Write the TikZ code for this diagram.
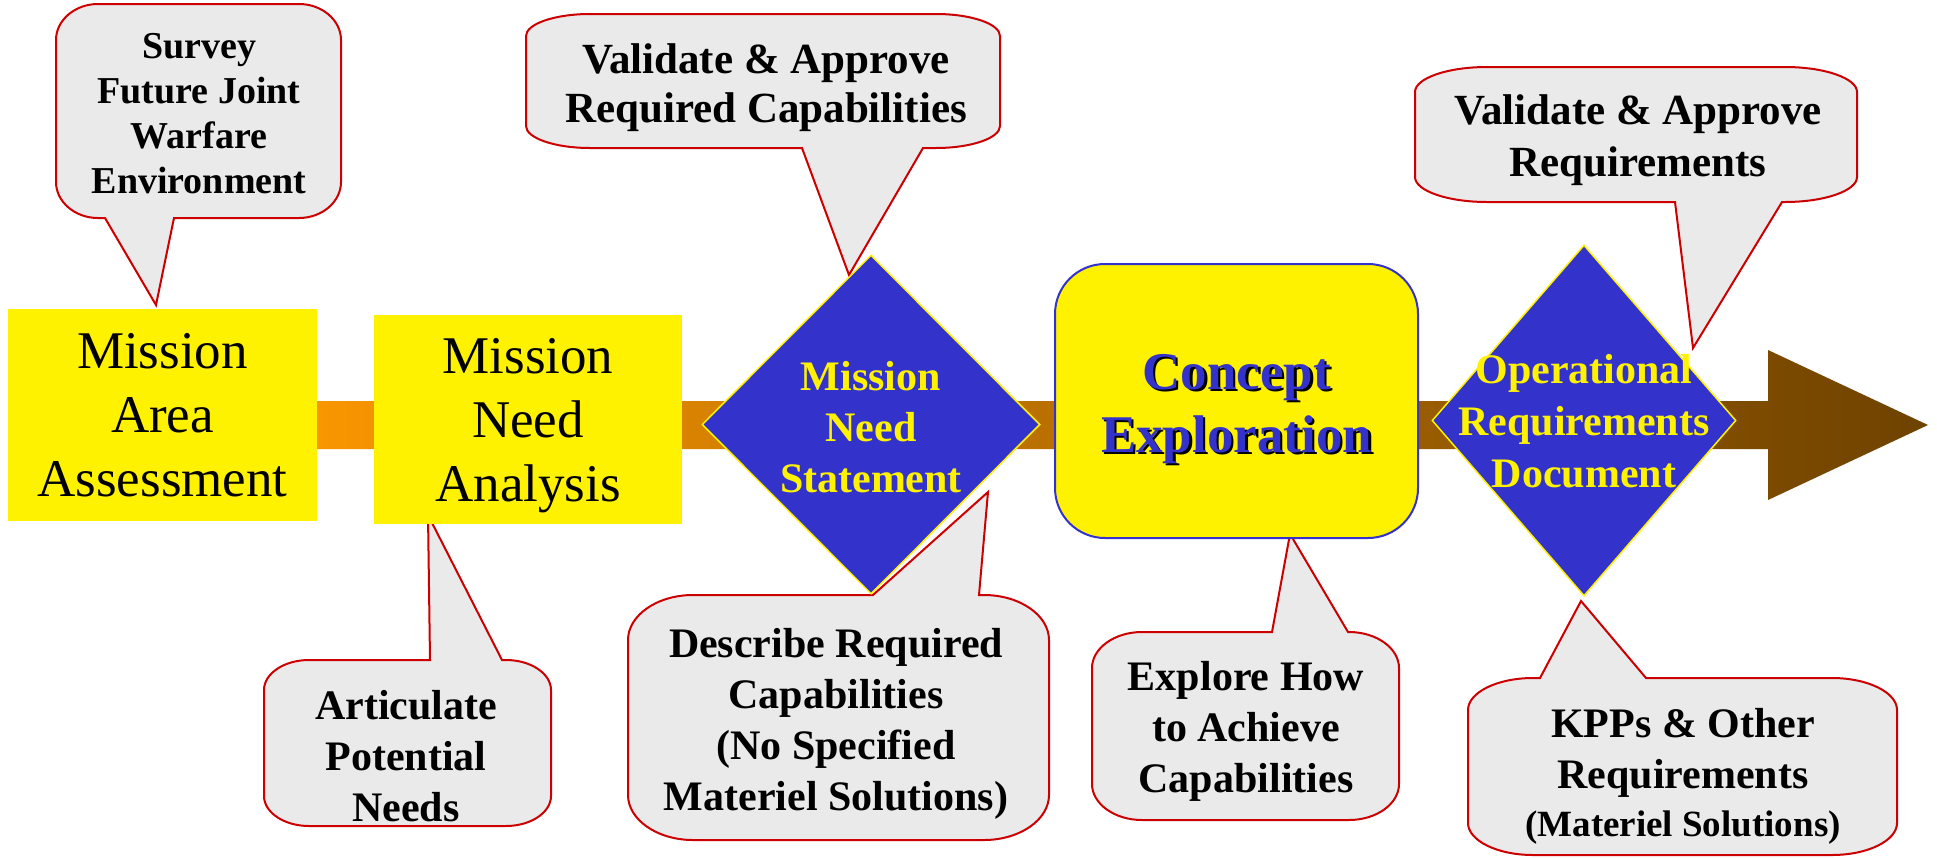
\documentclass[tikz,border=0pt]{standalone}
\usepackage{fontspec}
\setmainfont{Liberation Serif}
\usetikzlibrary{shapes.geometric}

\definecolor{notegray}{HTML}{EAEAEA}
\definecolor{notered}{HTML}{CC0000}
\definecolor{gateblue}{HTML}{3333CC}
\definecolor{barorange}{HTML}{FF9A00}
\definecolor{barbrown}{HTML}{6E4200}

% rounded speech bubble: left, top, right, bottom, x radius, y radius, pointer on top edge, pointer on bottom edge
\newcommand{\bubble}[8]{%
  \filldraw[notebox] (#1+#5,#2) #7 -- (#3-#5,#2)
    .. controls (#3-0.45*#5,#2) and (#3,#2+0.45*#6) .. (#3,#2+#6)
    -- (#3,#4-#6)
    .. controls (#3,#4-0.45*#6) and (#3-0.45*#5,#4) .. (#3-#5,#4)
    #8 -- (#1+#5,#4)
    .. controls (#1+0.45*#5,#4) and (#1,#4-0.45*#6) .. (#1,#4-#6)
    -- (#1,#2+#6)
    .. controls (#1,#2+0.45*#6) and (#1+0.45*#5,#2) .. (#1+#5,#2) -- cycle;}

\begin{document}
\begin{tikzpicture}[x=1pt, y=-1pt,
    notebox/.style={fill=notegray, draw=notered, line width=2pt},
    notetext/.style={align=center, inner sep=0pt, text depth=0pt, font=\bfseries\fontsize{42}{51}\selectfont},
    stagebox/.style={fill=yellow, align=center, inner sep=0pt, text depth=0pt, font=\fontsize{53}{64}\selectfont},
    gate/.style={diamond, fill=gateblue, draw=yellow, line width=1.5pt, inner sep=0pt},
    gatetext/.style={text=yellow, align=center, inner sep=0pt, text depth=0pt, font=\bfseries\fontsize{42}{52}\selectfont},
    concepttext/.style={align=center, inner sep=0pt, text depth=0pt, font=\bfseries\fontsize{53}{63}\selectfont}]
    \useasboundingbox (0,0) rectangle (1937,857);
    % Timeline arrow
    \shade[left color=barorange, right color=barbrown] (240,401) -- (1768,401) -- (1768,350) -- (1928,425)
        -- (1768,500) -- (1768,449) -- (240,449) -- cycle;
    % Callouts
    \bubble{56}{4}{341}{218}{42}{36}{}{-- (174,218) -- (156,305) -- (105,218)}
    \bubble{526}{14}{1000}{148}{64}{22}{}{-- (923,148) -- (849,275) -- (802,148)}
    \bubble{1415}{67}{1857}{202}{72}{25}{}{-- (1782,202) -- (1693,348) -- (1675,202)}
    \bubble{264}{660}{551}{826}{45}{30}{-- (430,660) -- (428,515) -- (502,660)}{}
    \bubble{628}{595}{1049}{840}{65}{45}{-- (873,595) -- (988,492) -- (979,595)}{}
    \bubble{1092}{632}{1399}{820}{50}{36}{-- (1272,632) -- (1290,534) -- (1348,632)}{}
    \bubble{1468}{678}{1897}{855}{65}{32}{-- (1540,678) -- (1581,601) -- (1646,678)}{}
    \node[notetext, font=\bfseries\fontsize{38}{45}\selectfont] (survey) at (199,113.5) {Survey\\Future Joint\\Warfare\\Environment};
    \node[notetext, font=\bfseries\fontsize{43}{49}\selectfont] (valcap) at (766,83) {Validate \& Approve\\Required Capabilities};
    \node[notetext, font=\bfseries\fontsize{43}{52}\selectfont] (valreq) at (1638,136) {Validate \& Approve\\Requirements};
    \node[notetext] (articulate) at (406,755.5) {Articulate\\Potential\\Needs};
    \node[notetext] (describe) at (836,719) {Describe Required\\Capabilities\\(No Specified\\Materiel Solutions)};
    \node[notetext] (explore) at (1246,727) {Explore How\\to Achieve\\Capabilities};
    \node[notetext] (kpps) at (1683,772) {KPPs \& Other\\Requirements\\[-3pt]{\fontsize{37}{44}\selectfont(Materiel Solutions)}};
    % Stages
    \node[stagebox, minimum width=309pt, minimum height=212pt] (maa) at (162.5,415) {Mission\\Area\\Assessment};
    \node[stagebox, minimum width=308pt, minimum height=209pt] (mna) at (528,419.5) {Mission\\Need\\Analysis};
    \node[gate, minimum width=338pt, minimum height=339pt] (mns) at (871,424.5) {};
    \node[gatetext, font=\bfseries\fontsize{42}{51}\selectfont] (mnstext) at (871,427) {Mission\\Need\\Statement};
    \node[fill=yellow, draw=gateblue, line width=2pt, rounded corners=50pt,
        minimum width=363pt, minimum height=274pt] (concept) at (1236.5,401) {};
    \node[concepttext, text=black] (conceptshadow) at (1239,405.5) {Concept\\Exploration};
    \node[concepttext, text=gateblue] (concepttitle) at (1236.5,403) {Concept\\Exploration};
    \node[gate, minimum width=304pt, minimum height=351pt] (ord) at (1584,420.5) {};
    \node[gatetext] (ordtext) at (1584,420.5) {Operational\\Requirements\\Document};
\end{tikzpicture}
\end{document}
